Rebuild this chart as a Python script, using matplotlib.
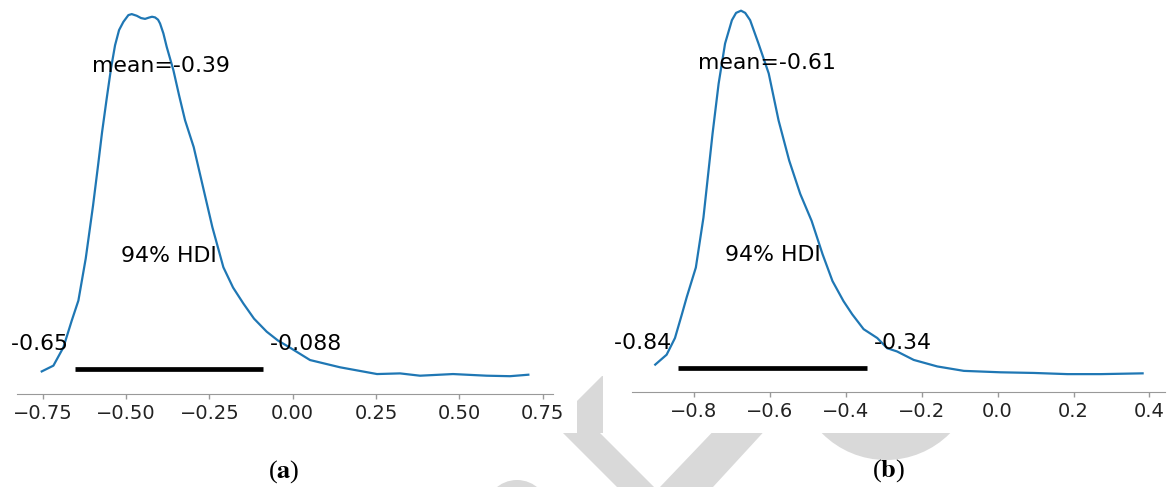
import matplotlib
matplotlib.use("Agg")
import matplotlib.pyplot as plt
from matplotlib.patches import Polygon, Circle, Rectangle

# posterior density
x_a = [-0.753, -0.718, -0.688, -0.663, -0.643, -0.621, -0.599, -0.584, -0.572, -0.558,
       -0.545, -0.533, -0.521, -0.508, -0.493, -0.483, -0.468, -0.455, -0.443, -0.431,
       -0.422, -0.413, -0.404, -0.398, -0.388, -0.378, -0.358, -0.341, -0.323, -0.297,
       -0.269, -0.241, -0.208, -0.179, -0.148, -0.116, -0.078, -0.044, -0.008, 0.052,
       0.142, 0.253, 0.322, 0.382, 0.481, 0.582, 0.652, 0.707]
dens_a = [0.032, 0.067, 0.178, 0.340, 0.462, 0.717, 1.039, 1.282, 1.483, 1.689,
          1.872, 2.011, 2.103, 2.153, 2.194, 2.200, 2.190, 2.176, 2.171, 2.179,
          2.184, 2.180, 2.166, 2.143, 2.083, 2.001, 1.860, 1.708, 1.556, 1.393,
          1.150, 0.907, 0.664, 0.541, 0.444, 0.352, 0.273, 0.219, 0.176, 0.101,
          0.057, 0.016, 0.020, 0.006, 0.016, 0.006, 0.003, 0.012]
mean_a = -0.394
hdi_a = [-0.653, -0.090]
hdi_labels_a = ["-0.65", "-0.088"]
ticks_a = [-0.75, -0.50, -0.25, 0.00, 0.25, 0.50, 0.75]

# posterior density
x_b = [-0.902, -0.872, -0.850, -0.832, -0.819, -0.795, -0.775, -0.763, -0.751,
       -0.735, -0.718, -0.700, -0.689, -0.676, -0.665, -0.652, -0.630, -0.603, -0.577,
       -0.549, -0.520, -0.490, -0.461, -0.435, -0.406, -0.383, -0.353, -0.317, -0.291,
       -0.265, -0.221, -0.159, -0.089, 0.008, 0.096, 0.184, 0.272, 0.382]
dens_b = [0.084, 0.160, 0.288, 0.468, 0.602, 0.829, 1.212, 1.534, 1.856,
          2.240, 2.548, 2.727, 2.783, 2.800, 2.783, 2.727, 2.548, 2.318, 1.957,
          1.649, 1.394, 1.187, 0.930, 0.725, 0.571, 0.470, 0.356, 0.288, 0.210,
          0.185, 0.120, 0.070, 0.036, 0.025, 0.020, 0.011, 0.011, 0.017]
mean_b = -0.609
hdi_b = [-0.843, -0.343]
hdi_labels_b = ["-0.84", "-0.34"]
ticks_b = [-0.8, -0.6, -0.4, -0.2, 0.0, 0.2, 0.4]

W, H = 1168, 487
fig = plt.figure(figsize=(W / 100, H / 100), dpi=100)
plt.rcParams['mathtext.fontset'] = 'stix'

# grey watermark behind the two panel images (figure pixel coords)
bg = fig.add_axes([0, 0, 1, 1], zorder=0)
bg.set_xlim(0, W)
bg.set_ylim(H, 0)
bg.axis('off')
grey = '#d9d9d9'
bg.add_patch(Polygon([(577, 433), (577, 401), (602, 376), (603, 376), (603, 433)], color=grey, lw=0))
bg.add_patch(Polygon([(530, 400), (567, 400), (654, 487), (617, 487)], color=grey, lw=0))
bg.add_patch(Polygon([(743, 400), (793, 400), (713, 487), (660, 487)], color=grey, lw=0))
bg.add_patch(Circle((886, 370), 90, color=grey, lw=0))
bg.add_patch(Circle((517, 512), 32, color=grey, lw=0))
bg.add_patch(Rectangle((0, 0), 577, 433, color='white', lw=0))
bg.add_patch(Rectangle((603, 0), W - 603, 433, color='white', lw=0))


def posterior(ax, x, dens, mean, hdi, hdi_labels, ticks, xlim):
    ax.plot(x, dens, color='#1f77b4', lw=1.6, solid_joinstyle='round')
    plot_height = ax.get_ylim()[1]
    ax.plot(hdi, [plot_height * 0.02] * 2, color='k', lw=3.4, solid_capstyle='butt')
    ax.text(hdi[0], plot_height * 0.07, hdi_labels[0] + ' ', size=15.8, ha='right')
    ax.text(hdi[1], plot_height * 0.07, ' ' + hdi_labels[1], size=15.8, ha='left')
    ax.text((hdi[0] + hdi[1]) / 2, plot_height * 0.3, '94% HDI', size=15.8, ha='center')
    ax.text(mean, plot_height * 0.8, 'mean=%.2f' % mean, size=15.8, ha='center')
    ax.set_xlim(xlim)
    ax.set_xticks(ticks)
    ax.set_yticks([])
    for s in ['left', 'right', 'top']:
        ax.spines[s].set_visible(False)
    ax.spines['bottom'].set_color('#999999')
    ax.tick_params(axis='x', labelsize=14, length=3.5, width=1, color='#999999',
                   pad=3.5, labelcolor='#222222')
    ax.patch.set_alpha(0)


ax1 = fig.add_axes([17.4 / W, 92.7 / H, 535.6 / W, 398.3 / H], zorder=1)
posterior(ax1, x_a, dens_a, mean_a, hdi_a, hdi_labels_a, ticks_a, (-0.826, 0.781))

ax2 = fig.add_axes([631.7 / W, 94.7 / H, 533.3 / W, 399.8 / H], zorder=1)
posterior(ax2, x_b, dens_b, mean_b, hdi_b, hdi_labels_b, ticks_b, (-0.964, 0.441))

fig.text(284 / W, 1 - 472 / H, r'($\mathbf{a}$)', size=19, ha='center', va='center',
         family='Liberation Serif')
fig.text(889 / W, 1 - 471 / H, r'($\mathbf{b}$)', size=19, ha='center', va='center',
         family='Liberation Serif')

fig.savefig('out.png', dpi=100)
